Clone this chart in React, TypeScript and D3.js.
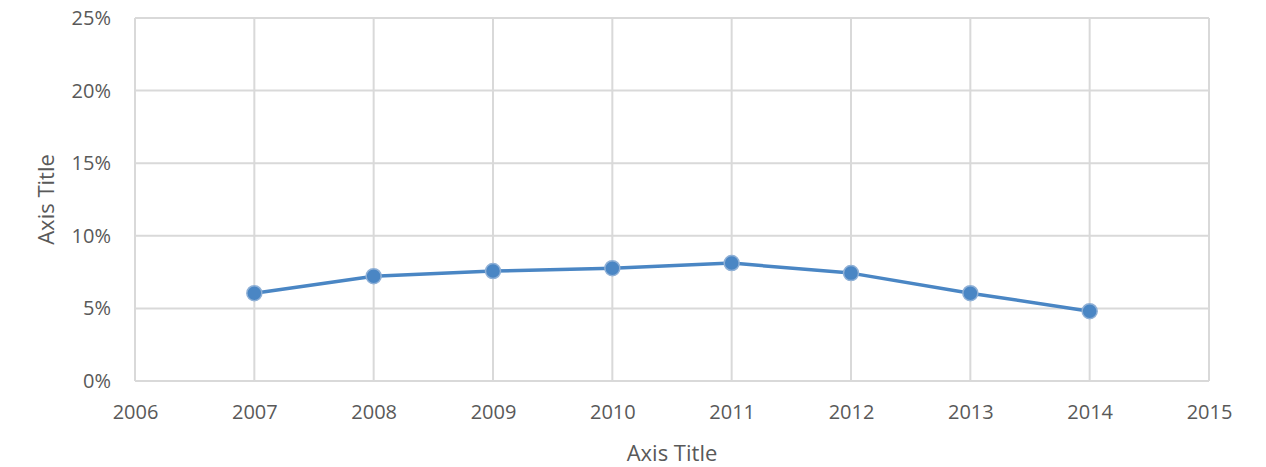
import { useRef, useEffect } from 'react';
import * as d3 from 'd3';

const YEARS = [2007, 2008, 2009, 2010, 2011, 2012, 2013, 2014];
const RATES = [0.0605, 0.0722, 0.0757, 0.0777, 0.0812, 0.0743, 0.0605, 0.0481];
const X_TICKS = [2006, 2007, 2008, 2009, 2010, 2011, 2012, 2013, 2014, 2015];
const Y_TICKS = [0, 0.05, 0.1, 0.15, 0.2, 0.25];

const WIDTH = 1266;
const HEIGHT = 467;
const MARGIN = { top: 18, right: 57, bottom: 86, left: 135 };
const FONT = '"Open Sans", "Noto Sans", sans-serif';
const GRID = '#d9d9d9';
const TEXT = '#595959';
const LINE = '#4a86c4';

export default function App() {
  const svgRef = useRef<SVGSVGElement>(null);

  useEffect(() => {
    if (!svgRef.current) return;
    const svg = d3.select(svgRef.current);
    svg.selectAll('*').remove();

    const iW = WIDTH - MARGIN.left - MARGIN.right;
    const iH = HEIGHT - MARGIN.top - MARGIN.bottom;
    const g = svg.append('g').attr('transform', `translate(${MARGIN.left},${MARGIN.top})`);

    const x = d3.scaleLinear().domain([2006, 2015]).range([0, iW]);
    const y = d3.scaleLinear().domain([0, 0.25]).range([iH, 0]);

    // grid
    g.append('g')
      .selectAll('line.h')
      .data(Y_TICKS)
      .join('line')
      .attr('x1', 0).attr('x2', iW)
      .attr('y1', (d) => y(d)).attr('y2', (d) => y(d))
      .attr('stroke', GRID).attr('stroke-width', 2);
    g.append('g')
      .selectAll('line.v')
      .data(X_TICKS)
      .join('line')
      .attr('x1', (d) => x(d)).attr('x2', (d) => x(d))
      .attr('y1', 0).attr('y2', iH)
      .attr('stroke', GRID).attr('stroke-width', 2);

    // axes
    const xAxis = g.append('g')
      .attr('transform', `translate(0,${iH})`)
      .call(d3.axisBottom(x).tickValues(X_TICKS).tickFormat((d) => String(d)).tickSize(0).tickPadding(24));
    xAxis.select('.domain').remove();
    xAxis.selectAll('text').attr('font-family', FONT).attr('font-size', '20px').attr('fill', TEXT);

    const yAxis = g.append('g')
      .call(d3.axisLeft(y).tickValues(Y_TICKS).tickFormat(d3.format('.0%')).tickSize(0).tickPadding(24));
    yAxis.select('.domain').remove();
    yAxis.selectAll('text').attr('font-family', FONT).attr('font-size', '20px').attr('fill', TEXT);

    // axis titles
    g.append('text')
      .attr('x', iW / 2).attr('y', iH + 80)
      .attr('text-anchor', 'middle')
      .attr('font-family', FONT).attr('font-size', '22px').attr('fill', TEXT)
      .text('Axis Title');
    g.append('text')
      .attr('transform', 'rotate(-90)')
      .attr('x', -iH / 2).attr('y', -81)
      .attr('text-anchor', 'middle')
      .attr('font-family', FONT).attr('font-size', '22px').attr('fill', TEXT)
      .text('Axis Title');

    const pts = YEARS.map((yr, i) => ({ yr, v: RATES[i] }));

    const line = d3.line<{ yr: number; v: number }>()
      .x((d) => x(d.yr))
      .y((d) => y(d.v));

    g.append('path')
      .datum(pts)
      .attr('fill', 'none')
      .attr('stroke', LINE)
      .attr('stroke-width', 3.5)
      .attr('stroke-linejoin', 'round')
      .attr('d', line);

    g.selectAll('circle')
      .data(pts)
      .join('circle')
      .attr('cx', (d) => x(d.yr))
      .attr('cy', (d) => y(d.v))
      .attr('r', 7.5)
      .attr('fill', LINE)
      .attr('stroke', '#8fb0d6')
      .attr('stroke-width', 1.5);
  }, []);

  return (
    <svg
      ref={svgRef}
      width={WIDTH}
      height={HEIGHT}
      style={{ position: 'absolute', left: 0, top: 0, background: '#fff' }}
    />
  );
}
